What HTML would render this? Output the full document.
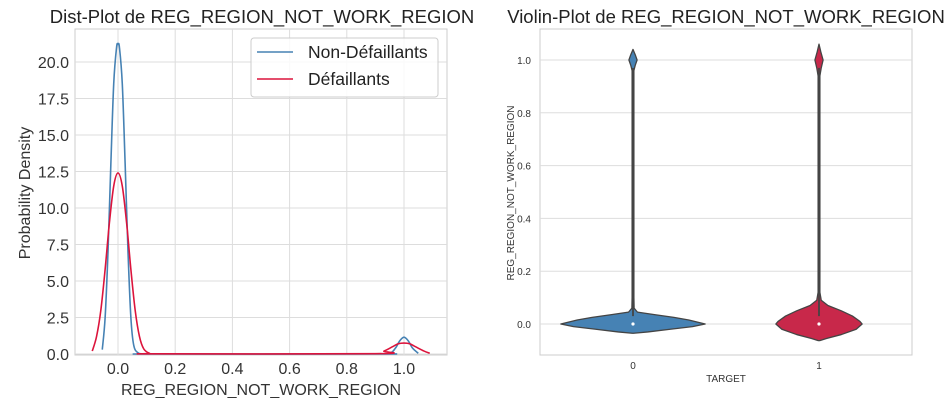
<!DOCTYPE html>
<html><head><meta charset="utf-8"><style>
body{margin:0;background:#fff;font-family:"Liberation Sans",sans-serif}
svg{display:block}
</style></head><body>
<svg id="chart" width="950" height="406">
<g id="left"></g>
<g id="right"></g>
</svg>
<script>
const distXTicks=[0.0,0.2,0.4,0.6,0.8,1.0];
const distYTicks=[0,2.5,5,7.5,10,12.5,15,17.5,20];
const blueX=[-0.055,-0.045,-0.035,-0.025,-0.015,-0.005,0,0.005,0.015,0.025,0.035,0.045,0.055,0.07,0.09,0.12,0.9,0.95,0.97,0.985,1.0,1.015,1.03,1.05];
const blueY=[0.3,2.5,7,13,18.5,21,21.2,21,18.5,13,7,2.5,0.6,0.08,0.01,0,0,0.05,0.4,0.9,1.15,0.9,0.4,0.05];
const redX=[-0.09,-0.075,-0.06,-0.045,-0.03,-0.015,0,0.015,0.03,0.045,0.06,0.075,0.09,0.11,0.13,0.9,0.93,0.96,0.98,1.0,1.02,1.04,1.07,1.09];
const redY=[0.2,1.2,3,5.8,9,11.5,12.4,11.5,9,5.8,3,1.2,0.35,0.05,0.01,0.02,0.2,0.5,0.7,0.75,0.7,0.5,0.2,0.05];
const violinCats=["0","1"];
const violinYTicks=[0.0,0.2,0.4,0.6,0.8,1.0];
const v0Y=[1.04,1.02,1.0,0.98,0.96,0.9,0.5,0.1,0.06,0.045,0.035,0.025,0.015,0.0,-0.01,-0.02,-0.03,-0.035];
const v0W=[0,0.03,0.055,0.03,0.012,0.012,0.012,0.012,0.015,0.06,0.3,0.55,0.75,0.97,0.8,0.5,0.2,0.01];
const v1Y=[1.06,1.03,1.0,0.97,0.94,0.9,0.5,0.12,0.09,0.07,0.05,0.03,0.01,0.0,-0.02,-0.04,-0.055,-0.063];
const v1W=[0,0.025,0.055,0.03,0.012,0.012,0.012,0.012,0.03,0.12,0.3,0.45,0.55,0.58,0.5,0.3,0.1,0.01];
const NS="http://www.w3.org/2000/svg";
function mk(p,t,a){const e=document.createElementNS(NS,t);for(const k in a)e.setAttribute(k,a[k]);p.appendChild(e);return e;}
function smooth(pts){let d='M'+pts[0][0]+','+pts[0][1];for(let i=0;i<pts.length-1;i++){const p0=pts[Math.max(0,i-1)],p1=pts[i],p2=pts[i+1],p3=pts[Math.min(pts.length-1,i+2)];
d+=' C'+(p1[0]+(p2[0]-p0[0])/6)+','+(p1[1]+(p2[1]-p0[1])/6)+' '+(p2[0]-(p3[0]-p1[0])/6)+','+(p2[1]-(p3[1]-p1[1])/6)+' '+p2[0]+','+p2[1];}return d;}
// LEFT
const L=document.getElementById('left');
const lx=v=>118+v*286, ly=v=>354-v*(292/20);
mk(L,'rect',{x:75,y:29,width:372,height:326,fill:'#fff',stroke:'#ccc'});
distXTicks.forEach(t=>{const l=mk(L,'line',{x1:lx(t),x2:lx(t),y1:29,y2:355,stroke:'#ddd'});
const tx=mk(L,'text',{x:lx(t),y:374,'text-anchor':'middle','font-size':16,fill:'#333'});tx.textContent=t.toFixed(1);});
distYTicks.forEach(t=>{const l=mk(L,'line',{x1:75,x2:447,y1:ly(t),y2:ly(t),stroke:'#ddd'});
const tx=mk(L,'text',{x:69,y:ly(t)+6,'text-anchor':'end','font-size':16,fill:'#333'});tx.textContent=t.toFixed(1);});
function curve(xs,ys,c,n){const p=mk(L,'path',{d:smooth(xs.map((x,i)=>[lx(x),ly(ys[i])])),fill:'none',stroke:c,'stroke-width':1.6});}
curve(blueX,blueY,'#4682b4','non-defaillants-kde');
curve(redX,redY,'#dc143c','defaillants-kde');
let t=mk(L,'text',{x:262,y:23,'text-anchor':'middle','font-size':18.5,fill:'#222'});t.textContent='Dist-Plot de REG_REGION_NOT_WORK_REGION';
t=mk(L,'text',{x:261,y:395,'text-anchor':'middle','font-size':16,fill:'#333'});t.textContent='REG_REGION_NOT_WORK_REGION';
t=mk(L,'text',{x:0,y:0,'text-anchor':'middle','font-size':16,fill:'#333',transform:'translate(30,193) rotate(-90)'});t.textContent='Probability Density';
const lg=mk(L,'g',{});
mk(lg,'rect',{x:251,y:38,width:187,height:59,rx:3,fill:'#fff','fill-opacity':0.85,stroke:'#ccc'});
[['Non-Défaillants','#4682b4',52],['Défaillants','#dc143c',79]].forEach(([s,c,y])=>{mk(lg,'line',{x1:257,x2:293,y1:y,y2:y,stroke:c,'stroke-width':1.6});const e=mk(lg,'text',{x:308,y:y+6,'font-size':17.5,fill:'#222'});e.textContent=s;});
// RIGHT
const R=document.getElementById('right');
const rx=i=>633+i*186, ry=v=>324-v*264, half=93*0.8;
mk(R,'rect',{x:540,y:29,width:372,height:326,fill:'#fff',stroke:'#ccc'});
violinYTicks.forEach(v=>{const l=mk(R,'line',{x1:540,x2:912,y1:ry(v),y2:ry(v),stroke:'#ddd'});
const tx=mk(R,'text',{x:531,y:ry(v)+4,'text-anchor':'end','font-size':10,fill:'#333'});tx.textContent=v.toFixed(1);});
violinCats.forEach((c,i)=>{const tx=mk(R,'text',{x:rx(i),y:369,'text-anchor':'middle','font-size':10,fill:'#333'});tx.textContent=c;});
function violin(i,ys,ws,col,n){const cx=rx(i);const r=ys.map((y,k)=>(cx+ws[k]*half)+','+ry(y));const l=ys.map((y,k)=>(cx-ws[k]*half)+','+ry(y)).reverse();
const p=mk(R,'polygon',{points:r.concat(l).join(' '),fill:col,stroke:'#444','stroke-width':1.3,'stroke-linejoin':'round'});
mk(R,'line',{x1:cx,x2:cx,y1:ry(0.97),y2:ry(0.03),stroke:'#444','stroke-width':1.8});
const m=mk(R,'circle',{cx:cx,cy:ry(0),r:1.6,fill:'#fff'});}
violin(0,v0Y,v0W,'#4682b4','violin-target-0');
violin(1,v1Y,v1W,'#c8284a','violin-target-1');
t=mk(R,'text',{x:726,y:23,'text-anchor':'middle','font-size':18.5,fill:'#222'});t.textContent='Violin-Plot de REG_REGION_NOT_WORK_REGION';
t=mk(R,'text',{x:726,y:382,'text-anchor':'middle','font-size':10,fill:'#333'});t.textContent='TARGET';
t=mk(R,'text',{x:0,y:0,'text-anchor':'middle','font-size':10,fill:'#333',transform:'translate(514,193) rotate(-90)'});t.textContent='REG_REGION_NOT_WORK_REGION';
</script>
</body></html>
